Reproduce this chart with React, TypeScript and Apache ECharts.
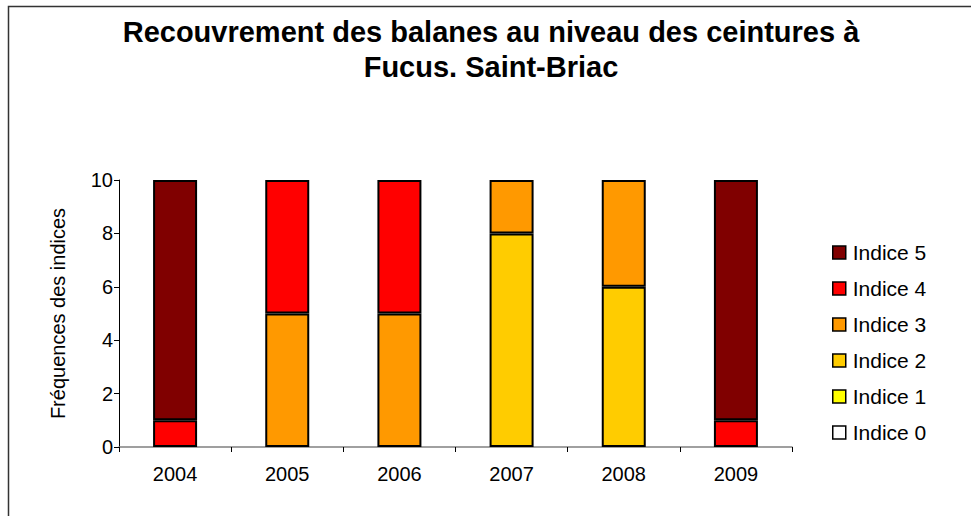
import React, { useEffect, useRef } from "react";
import * as echarts from "echarts";

const titleLines = ["Recouvrement des balanes au niveau des ceintures à", "Fucus. Saint-Briac"];
const years = ["2004", "2005", "2006", "2007", "2008", "2009"];
const seriesNames = ["Indice 0", "Indice 1", "Indice 2", "Indice 3", "Indice 4", "Indice 5"];
const indice0 = [0, 0, 0, 0, 0, 0];
const indice1 = [0, 0, 0, 0, 0, 0];
const indice2 = [0, 0, 0, 8, 6, 0];
const indice3 = [0, 5, 5, 2, 4, 0];
const indice4 = [1, 5, 5, 0, 0, 1];
const indice5 = [9, 0, 0, 0, 0, 9];
const seriesValues = [indice0, indice1, indice2, indice3, indice4, indice5];
const seriesColors = ["#FFFFFF", "#FFFF00", "#FFCC00", "#FF9900", "#FF0000", "#800000"];
const yTicks = [0, 2, 4, 6, 8, 10];

const FONT = "'Liberation Sans', Arial, sans-serif";

export default function App() {
  const ref = useRef<HTMLDivElement>(null);
  useEffect(() => {
    if (!ref.current) return;
    const chart = echarts.init(ref.current, null, { renderer: "svg" });
    chart.setOption({
      animation: false,
      backgroundColor: "#FFFFFF",
      textStyle: { fontFamily: FONT },
      title: {
        text: titleLines.join("\n"),
        left: 491,
        textAlign: "center",
        top: 14,
        padding: 0,
        textStyle: { fontFamily: FONT, fontSize: 29, fontWeight: "bold", color: "#000", lineHeight: 35 },
      },
      graphic: [
        {
          type: "rect",
          shape: { x: 8.5, y: 6.5, width: 1000, height: 600 },
          style: { fill: "none", stroke: "#333", lineWidth: 1.5 },
          silent: true,
          z: -1,
        },
      ],
      legend: {
        orient: "vertical",
        left: 832,
        top: 242,
        padding: 0,
        itemWidth: 13,
        itemHeight: 13,
        itemGap: 15,
        icon: "rect",
        data: seriesNames.slice().reverse(),
        itemStyle: { borderColor: "#000", borderWidth: 1.5 },
        textStyle: { fontFamily: FONT, fontSize: 21, color: "#000", lineHeight: 21, padding: [0, 0, 0, 2] },
      },
      grid: { left: 119, right: 179, top: 180, bottom: 69, containLabel: false },
      xAxis: {
        type: "category",
        data: years,
        axisLine: { lineStyle: { color: "#808080", width: 1.5 } },
        axisTick: { show: true, length: 5, alignWithLabel: false, lineStyle: { color: "#000" } },
        axisLabel: { fontFamily: FONT, fontSize: 20, color: "#000", margin: 17 },
      },
      yAxis: {
        type: "value",
        min: yTicks[0],
        max: yTicks[yTicks.length - 1],
        interval: 2,
        name: "Fréquences des indices",
        nameLocation: "middle",
        nameGap: 51,
        nameTextStyle: { fontFamily: FONT, fontSize: 20, color: "#000" },
        axisLine: { show: true, lineStyle: { color: "#000", width: 1 } },
        axisTick: { show: true, length: 5, lineStyle: { color: "#000" } },
        axisLabel: { fontFamily: FONT, fontSize: 20, color: "#000", margin: 6 },
        splitLine: { show: false },
      },
      series: seriesNames.map((name, i) => ({
        name,
        type: "bar",
        stack: "total",
        barWidth: 44,
        data: seriesValues[i].map((v) => (v === 0 ? "-" : v)),
        itemStyle: { color: seriesColors[i], borderColor: "#000", borderWidth: 2 },
      })),
    });
    return () => chart.dispose();
  }, []);
  return (
    <div
      ref={ref}
      style={{ position: "absolute", left: 0, top: 0, width: 971, height: 516 }}
    />
  );
}
